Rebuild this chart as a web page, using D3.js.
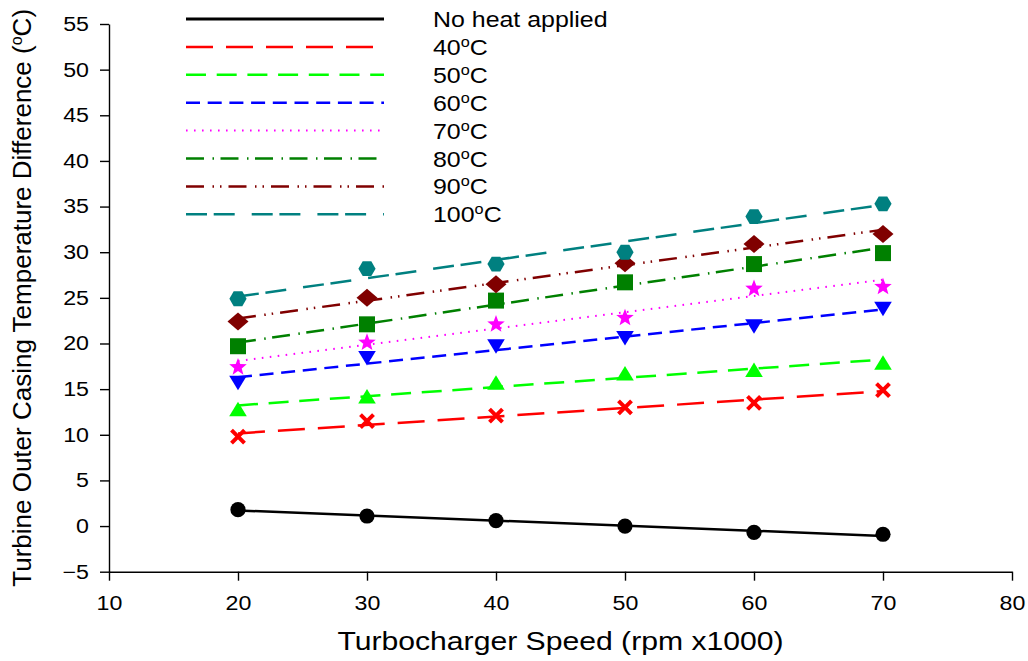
<!DOCTYPE html>
<html>
<head>
<meta charset="utf-8">
<script src="https://cdn.jsdelivr.net/npm/d3@7/dist/d3.min.js"></script>
<style>
  html, body { margin: 0; padding: 0; background: #fff; }
  svg { display: block; font-family: Arial, "Liberation Sans", sans-serif; }
</style>
</head>
<body>
<svg id="chart" width="1028" height="661"></svg>
<script>
// Turbocharger speed (rpm x1000)
const speeds = [20, 30, 40, 50, 60, 70];

// Temperature difference (°C) for each heating condition
const noHeat = [1.8, 1.1, 0.6, 0.0, -0.7, -0.9];
const heat40 = [9.8, 11.5, 12.1, 13.0, 13.5, 14.9];
const heat50 = [12.8, 14.2, 15.7, 16.7, 17.1, 17.9];
const heat60 = [15.7, 18.4, 19.7, 20.6, 21.9, 23.8];
const heat70 = [17.5, 20.2, 22.2, 22.9, 26.1, 26.3];
const heat80 = [19.7, 22.1, 24.7, 26.7, 28.7, 29.9];
const heat90 = [22.4, 25.0, 26.5, 28.8, 30.9, 32.0];
const heat100 = [24.9, 28.2, 28.7, 30.0, 33.9, 35.3];

const seriesNames = ["No heat applied", "40", "50", "60", "70", "80", "90", "100"];

const xTicks = [10, 20, 30, 40, 50, 60, 70, 80];
const yTicks = [-5, 0, 5, 10, 15, 20, 25, 30, 35, 40, 45, 50, 55];

// Appearance of each series
const styles = [
  { color: "#000000", dash: null,                     width: 2.5, marker: "circle" },
  { color: "#ff0000", dash: "27,13",                  width: 2.5, marker: "cross" },
  { color: "#00ff00", dash: "20,10.7",                width: 2.5, marker: "triangleUp" },
  { color: "#0000ff", dash: "14,7.7",                 width: 2.5, marker: "triangleDown" },
  { color: "#ff00ff", dash: "1.6,6.4",                width: 2,   marker: "star" },
  { color: "#008000", dash: "18,8.5,1.5,6.5",         width: 2.5, marker: "square" },
  { color: "#800000", dash: "18,8.5,1.5,6,1.5,7",     width: 2.5, marker: "diamond" },
  { color: "#008080", dash: "21,6.7,21,17",           width: 2.5, marker: "hexagon" }
];

const values = [noHeat, heat40, heat50, heat60, heat70, heat80, heat90, heat100];

// Horizontal stretch applied to horizontal text (wide Arial look)
const wide = 1.16;

const svg = d3.select("#chart");
const plot = { left: 109, right: 1012, top: 24, bottom: 571.7 };

const x = d3.scaleLinear().domain([10, 80]).range([plot.left, plot.right]);
const y = d3.scaleLinear().domain([-5, 55]).range([plot.bottom, plot.top]);

// Axes
const xAxis = d3.axisBottom(x).tickValues(xTicks).tickSize(9).tickSizeOuter(0).tickPadding(15);
const yAxis = d3.axisLeft(y).tickValues(yTicks).tickSize(9).tickSizeOuter(0).tickPadding(11);

const gx = svg.append("g").attr("transform", `translate(0,${plot.bottom})`).call(xAxis);
const gy = svg.append("g").attr("transform", `translate(${plot.left},0)`).call(yAxis);
[gx, gy].forEach(g => {
  g.select(".domain").attr("stroke", "#000").attr("stroke-width", 1.4);
  g.selectAll(".tick line").attr("stroke", "#000").attr("stroke-width", 1.4);
  g.selectAll(".tick text").attr("fill", "#000").style("font-size", "20px")
    .style("font-family", "Arial, 'Liberation Sans', sans-serif");
});
gx.selectAll(".tick text").attr("transform", `scale(${wide},1)`);
gy.selectAll(".tick text").attr("x", 0).attr("transform", `translate(-20,0) scale(${wide},1)`);

// Axis titles
svg.append("text")
  .attr("transform", `translate(${(plot.left + plot.right) / 2},650) scale(${wide},1)`)
  .attr("text-anchor", "middle").style("font-size", "26px")
  .text("Turbocharger Speed (rpm x1000)");

const yTitle = svg.append("text")
  .attr("transform", `translate(31,${(plot.top + plot.bottom) / 2}) rotate(-90)`)
  .attr("text-anchor", "middle").style("font-size", "26px");
yTitle.append("tspan").text("Turbine Outer Casing Temperature Difference (");
yTitle.append("tspan").attr("dy", -9).style("font-size", "16px").text("o");
yTitle.append("tspan").attr("dy", 9).text("C)");

// Least-squares trend line through a series
function fit(xs, ys) {
  const mx = d3.mean(xs), my = d3.mean(ys);
  let sxy = 0, sxx = 0;
  xs.forEach((v, i) => { sxy += (v - mx) * (ys[i] - my); sxx += (v - mx) * (v - mx); });
  const b = sxy / sxx;
  return v => my + b * (v - mx);
}

const line = d3.line().x(d => x(d[0])).y(d => y(d[1]));

values.forEach((vals, i) => {
  const f = fit(speeds, vals);
  const x0 = d3.min(speeds), x1 = d3.max(speeds);
  svg.append("path")
    .attr("d", line([[x0, f(x0)], [x1, f(x1)]]))
    .attr("fill", "none")
    .attr("stroke", styles[i].color)
    .attr("stroke-width", styles[i].width)
    .attr("stroke-dasharray", styles[i].dash);
});

// Marker shapes (centred on the data point)
function markerPath(kind) {
  const p = d3.path();
  if (kind === "circle") {
    p.arc(0, 0, 7.6, 0, 2 * Math.PI);
  } else if (kind === "triangleUp") {
    p.moveTo(0, -7.5); p.lineTo(8.8, 7); p.lineTo(-8.8, 7); p.closePath();
  } else if (kind === "triangleDown") {
    p.moveTo(0, 7.5); p.lineTo(8.8, -7); p.lineTo(-8.8, -7); p.closePath();
  } else if (kind === "square") {
    p.rect(-8, -8, 16, 16);
  } else if (kind === "diamond") {
    p.moveTo(0, -9); p.lineTo(10.5, 0); p.lineTo(0, 9); p.lineTo(-10.5, 0); p.closePath();
  } else if (kind === "hexagon") {
    for (let k = 0; k < 6; k++) {
      const a = Math.PI / 6 + k * Math.PI / 3 - Math.PI / 2;
      const px = 8.6 * Math.cos(a), py = 8.6 * Math.sin(a);
      if (k === 0) p.moveTo(px, py); else p.lineTo(px, py);
    }
    p.closePath();
  } else if (kind === "star") {
    for (let k = 0; k < 10; k++) {
      const r = k % 2 === 0 ? 9.2 : 3.9;
      const a = -Math.PI / 2 + k * Math.PI / 5;
      const px = r * Math.cos(a), py = r * Math.sin(a) + 0.9;
      if (k === 0) p.moveTo(px, py); else p.lineTo(px, py);
    }
    p.closePath();
  }
  return p.toString();
}

function drawMarker(g, kind, color, cx, cy) {
  if (kind === "cross") {
    g.append("path")
      .attr("d", `M${cx - 6.5},${cy - 6.5}L${cx + 6.5},${cy + 6.5}M${cx + 6.5},${cy - 6.5}L${cx - 6.5},${cy + 6.5}`)
      .attr("stroke", color).attr("stroke-width", 4).attr("fill", "none");
  } else {
    g.append("path")
      .attr("d", markerPath(kind))
      .attr("transform", `translate(${cx},${cy})`)
      .attr("fill", color);
  }
}

const markers = svg.append("g");
values.forEach((vals, i) => {
  vals.forEach((v, j) => drawMarker(markers, styles[i].marker, styles[i].color, x(speeds[j]), y(v)));
});

// Legend
const legend = svg.append("g");
const legY0 = 19, legStep = 27.9;
seriesNames.forEach((name, i) => {
  const ly = legY0 + i * legStep;
  legend.append("line")
    .attr("x1", 186).attr("x2", 384).attr("y1", ly).attr("y2", ly)
    .attr("stroke", styles[i].color).attr("stroke-width", i === 0 ? 3 : styles[i].width)
    .attr("stroke-dasharray", styles[i].dash);
  const t = legend.append("text")
    .attr("transform", `translate(433,${ly + 8}) scale(${wide},1)`)
    .style("font-size", "21.5px");
  if (i === 0) {
    t.text(name);
  } else {
    t.append("tspan").text(name);
    t.append("tspan").attr("dy", -8).style("font-size", "14px").text("o");
    t.append("tspan").attr("dy", 8).text("C");
  }
});
</script>
</body>
</html>
